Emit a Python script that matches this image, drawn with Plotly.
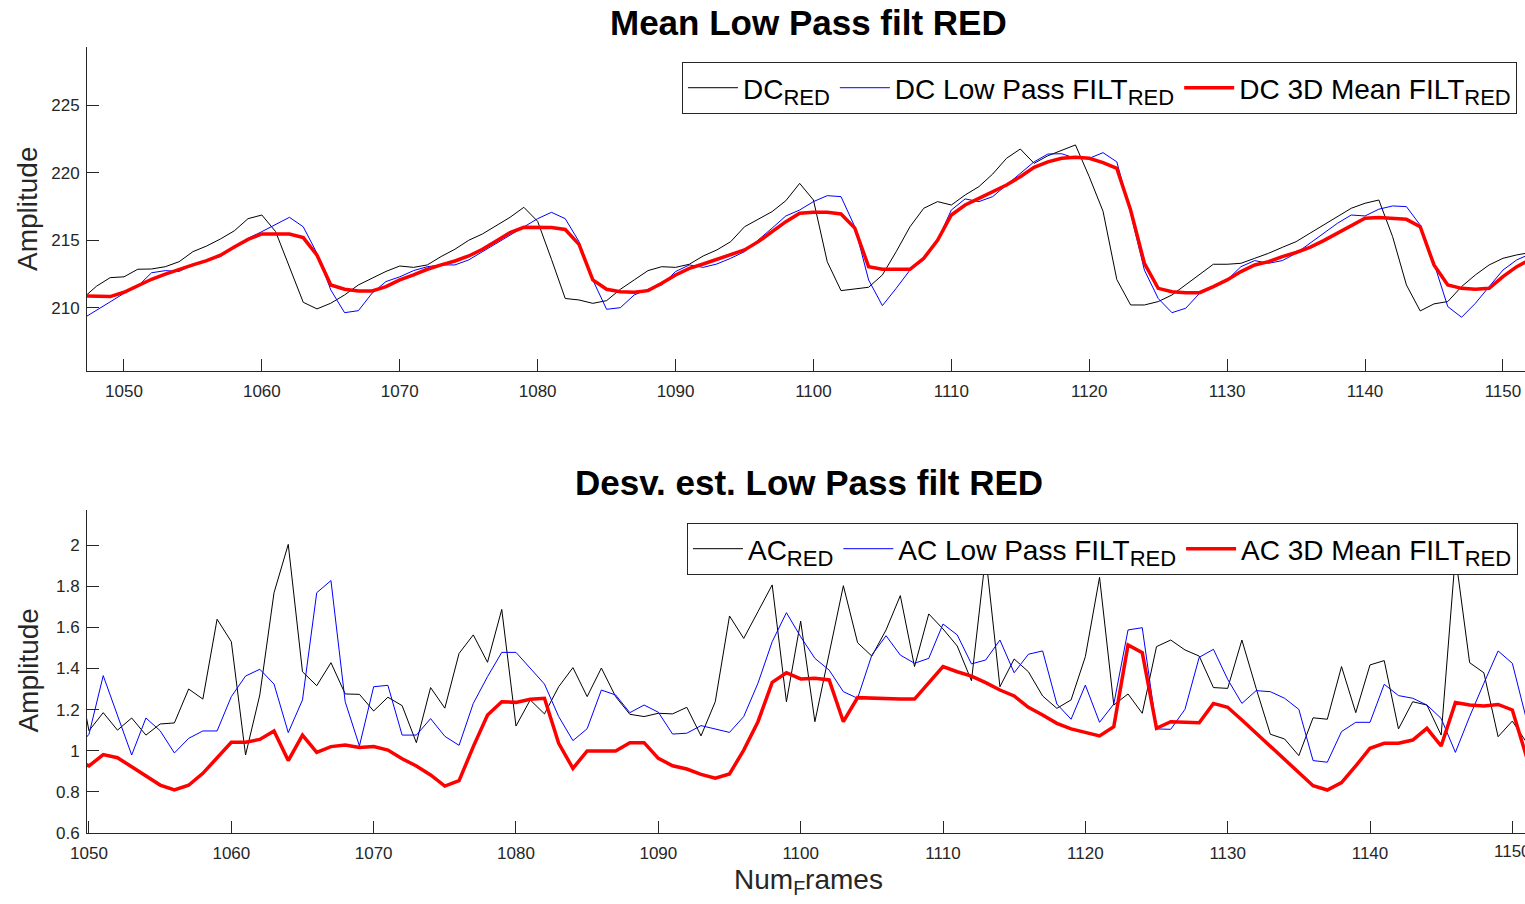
import plotly.graph_objects as go

# ---------------- data ----------------
frames_top = list(range(1047, 1153))
dc_red = [210.7, 211.6, 212.24, 212.3, 212.86, 212.88, 213.05, 213.42, 214.16, 214.58,
          215.1, 215.7, 216.6, 216.87, 215.64, 213.05, 210.42, 209.93, 210.35, 210.96,
          211.7, 212.2, 212.7, 213.1, 213.0, 213.18, 213.8, 214.34, 215.0, 215.47,
          216.1, 216.7, 217.44, 216.4, 213.6, 210.7, 210.59, 210.34, 210.54, 211.38,
          212.07, 212.76, 213.05, 213.0, 213.23, 213.84, 214.29, 214.9, 216.0, 216.55,
          217.12, 217.93, 219.21, 217.98, 213.42, 211.28, 211.38, 211.53, 212.44, 214.16,
          216.0, 217.37, 217.86, 217.61, 218.35, 218.97, 219.9, 221.06, 221.75, 220.69,
          221.25, 221.68, 222.05, 219.7, 217.15, 212.1, 210.22, 210.22, 210.47, 210.96,
          211.7, 212.44, 213.23, 213.23, 213.3, 213.67, 214.04, 214.48, 214.9, 215.52,
          216.13, 216.75, 217.37, 217.74, 217.98, 215.27, 211.7, 209.78, 210.3, 210.47,
          211.58, 212.44, 213.18, 213.67, 213.92, 214.1]
dc_lowpass = [209.2, 209.8, 210.45, 211.08, 211.6, 212.6, 212.76, 212.7, 213.2, 213.5,
              213.8, 214.5, 215.15, 215.64, 216.2, 216.7, 216.0, 214.04, 211.33, 209.65,
              209.8, 211.1, 211.95, 212.3, 212.76, 213.05, 213.18, 213.18, 213.55, 214.16,
              214.78, 215.4, 216.0, 216.6, 217.07, 216.6, 214.9, 212.07, 209.9, 210.02,
              210.96, 211.38, 211.7, 212.69, 213.18, 213.0, 213.25, 213.67, 214.16, 215.0,
              215.9, 216.8, 217.24, 217.86, 218.3, 218.23, 216.0, 212.07, 210.17, 211.45,
              212.8, 213.55, 215.0, 217.24, 218.06, 217.86, 218.23, 219.09, 219.95, 220.8,
              221.38, 221.4, 221.06, 221.06, 221.48, 220.8, 217.0, 212.8, 210.7, 209.65,
              209.98, 211.08, 211.58, 212.07, 213.05, 213.5, 213.3, 213.5, 214.04, 214.78,
              215.52, 216.26, 216.87, 216.8, 217.3, 217.54, 217.49, 216.13, 213.3, 210.1,
              209.31, 210.34, 211.58, 212.8, 213.55, 214.0]
dc_mean3d = [210.9, 210.85, 210.84, 211.16, 211.65, 212.12, 212.5, 212.86, 213.18, 213.5,
             213.9, 214.5, 215.07, 215.47, 215.47, 215.47, 215.2, 213.9, 211.7, 211.38,
             211.26, 211.26, 211.58, 212.07, 212.44, 212.86, 213.18, 213.47, 213.84, 214.34,
             214.95, 215.57, 215.96, 215.96, 215.94, 215.8, 214.7, 212.07, 211.38, 211.2,
             211.16, 211.28, 211.82, 212.44, 212.93, 213.25, 213.6, 213.92, 214.29, 214.9,
             215.64, 216.38, 217.0, 217.07, 217.07, 216.95, 215.9, 213.05, 212.86, 212.86,
             212.86, 213.67, 215.0, 216.87, 217.61, 218.1, 218.6, 219.09, 219.7, 220.4,
             220.8, 221.06, 221.14, 221.06, 220.74, 220.32, 217.24, 213.3, 211.45, 211.2,
             211.13, 211.13, 211.58, 212.07, 212.69, 213.18, 213.42, 213.8, 214.1, 214.48,
             214.98, 215.52, 216.09, 216.63, 216.68, 216.63, 216.55, 216.0, 213.18, 211.7,
             211.45, 211.38, 211.45, 212.32, 213.05, 213.6]

frames_bot = list(range(1049, 1152))
ac_red = [1.45, 1.097, 1.185, 1.10, 1.159, 1.076, 1.13, 1.135, 1.30, 1.251,
          1.639, 1.53, 0.979, 1.271, 1.768, 2.003, 1.384, 1.316, 1.428, 1.276,
          1.274, 1.193, 1.26, 1.219, 1.039, 1.307, 1.207, 1.473, 1.563, 1.43,
          1.687, 1.12, 1.247, 1.179, 1.311, 1.404, 1.263, 1.402, 1.263, 1.177,
          1.166, 1.182, 1.179, 1.211, 1.072, 1.238, 1.655, 1.546, 1.676, 1.806,
          1.238, 1.63, 1.141, 1.473, 1.802, 1.525, 1.46, 1.587, 1.754, 1.409,
          1.665, 1.592, 1.509, 1.34, 1.95, 1.311, 1.446, 1.384, 1.266, 1.206,
          1.247, 1.457, 1.843, 1.222, 1.276, 1.182, 1.506, 1.538, 1.49, 1.46,
          1.307, 1.303, 1.538, 1.303, 1.08, 1.057, 0.976, 1.16, 1.153, 1.409,
          1.185, 1.417, 1.438, 1.106, 1.238, 1.222, 1.076, 1.95, 1.428, 1.379,
          1.068, 1.144, 1.04]
ac_lowpass = [1.0, 1.08, 1.365, 1.17, 0.979, 1.159, 1.097, 0.989, 1.06, 1.096,
              1.096, 1.263, 1.363, 1.396, 1.324, 1.088, 1.247, 1.768, 1.827, 1.238,
              1.023, 1.311, 1.318, 1.076, 1.076, 1.156, 1.07, 1.026, 1.23, 1.36,
              1.478, 1.478, 1.40, 1.324, 1.166, 1.049, 1.107, 1.295, 1.271, 1.185,
              1.222, 1.187, 1.081, 1.085, 1.122, 1.107, 1.089, 1.166, 1.328, 1.53,
              1.671, 1.554, 1.449, 1.392, 1.287, 1.255, 1.465, 1.559, 1.465, 1.425,
              1.449, 1.616, 1.563, 1.422, 1.441, 1.538, 1.379, 1.469, 1.485, 1.227,
              1.153, 1.319, 1.138, 1.227, 1.587, 1.598, 1.106, 1.104, 1.201, 1.454,
              1.493, 1.347, 1.23, 1.292, 1.287, 1.255, 1.201, 0.952, 0.944, 1.093,
              1.138, 1.138, 1.323, 1.268, 1.255, 1.222, 1.157, 0.992, 1.166, 1.328,
              1.485, 1.425, 1.15]
ac_mean3d = [0.96, 0.926, 0.981, 0.966, 0.922, 0.877, 0.833, 0.809, 0.832, 0.89,
             0.968, 1.041, 1.041, 1.055, 1.096, 0.952, 1.076, 0.992, 1.02, 1.028,
             1.016, 1.02, 1.003, 0.961, 0.926, 0.882, 0.828, 0.854, 1.02, 1.174,
             1.238, 1.235, 1.25, 1.255, 1.036, 0.914, 0.999, 0.999, 0.999, 1.039,
             1.039, 0.963, 0.927, 0.911, 0.885, 0.866, 0.887, 1.003, 1.141, 1.332,
             1.379, 1.349, 1.352, 1.344, 1.141, 1.258, 1.255, 1.251, 1.251, 1.251,
             1.331, 1.409, 1.384, 1.363, 1.331, 1.295, 1.266, 1.211, 1.174, 1.133,
             1.106, 1.088, 1.072, 1.117, 1.514, 1.477, 1.109, 1.141, 1.138, 1.136,
             1.23, 1.211, 1.149, 1.085, 1.02, 0.955, 0.895, 0.83, 0.809, 0.845,
             0.926, 1.012, 1.036, 1.036, 1.052, 1.109, 1.023, 1.234, 1.222, 1.217,
             1.225, 1.198, 0.97]

x_ticks = list(range(1050, 1151, 10))
top_y_ticks = [210, 215, 220, 225]
bot_y_ticks = [0.6, 0.8, 1.0, 1.2, 1.4, 1.6, 1.8, 2.0]
edge_tick = 1150  # bottom-axis tick whose label runs past the figure edge

# ---------------- figure ----------------
FONT = "Liberation Sans, Arial, sans-serif"
AX = "#262626"
SUB = '<sub><span style="font-size:22px">RED</span></sub>'

fig = go.Figure()
fig.add_trace(go.Scatter(x=frames_top, y=dc_red, mode="lines", name="DC" + SUB,
                         line=dict(color="black", width=1), xaxis="x", yaxis="y", legend="legend"))
fig.add_trace(go.Scatter(x=frames_top, y=dc_lowpass, mode="lines", name="DC Low Pass FILT" + SUB,
                         line=dict(color="#0000ff", width=1), xaxis="x", yaxis="y", legend="legend"))
fig.add_trace(go.Scatter(x=frames_top, y=dc_mean3d, mode="lines", name="DC 3D Mean FILT" + SUB,
                         line=dict(color="#ff0000", width=3.5), xaxis="x", yaxis="y", legend="legend"))

fig.add_trace(go.Scatter(x=frames_bot, y=ac_red, mode="lines", name="AC" + SUB,
                         line=dict(color="black", width=1), xaxis="x2", yaxis="y2", legend="legend2"))
fig.add_trace(go.Scatter(x=frames_bot, y=ac_lowpass, mode="lines", name="AC Low Pass FILT" + SUB,
                         line=dict(color="#0000ff", width=1), xaxis="x2", yaxis="y2", legend="legend2"))
fig.add_trace(go.Scatter(x=frames_bot, y=ac_mean3d, mode="lines", name="AC 3D Mean FILT" + SUB,
                         line=dict(color="#ff0000", width=3.5), xaxis="x2", yaxis="y2", legend="legend2"))

axis_common = dict(showline=True, linecolor=AX, linewidth=1, ticks="inside", ticklen=12,
                   tickcolor=AX, tickwidth=1, showgrid=False, zeroline=False, mirror=False,
                   tickfont=dict(family=FONT, size=17, color=AX))

legend_common = dict(orientation="h", xanchor="right", yanchor="top", bgcolor="white",
                     bordercolor=AX, borderwidth=1, font=dict(family=FONT, size=28, color="black"),
                     itemwidth=50, tracegroupgap=0)

fig.update_layout(
    width=1525, height=904,
    margin=dict(l=87, r=0, t=47, b=71),
    plot_bgcolor="white", paper_bgcolor="white",
    showlegend=True,
    xaxis=dict(domain=[0, 1], anchor="y", range=[1047.32, 1151.6], tickvals=x_ticks,
               ticklabelstandoff=5, **axis_common),
    yaxis=dict(domain=[0.5878, 1], anchor="x", range=[205.34, 229.29], tickvals=top_y_ticks,
               ticklabelstandoff=3, **axis_common),
    xaxis2=dict(domain=[0, 1], anchor="y2", range=[1049.86, 1150.89], tickvals=x_ticks,
                ticklabelstandoff=5, **axis_common),
    yaxis2=dict(domain=[0, 0.4109], anchor="x2", range=[0.6, 2.17], tickvals=bot_y_ticks,
                ticklabelstandoff=3, **axis_common),
    legend=dict(x=0.9944, y=0.9809, **legend_common),
    legend2=dict(x=0.9951, y=0.3944, **legend_common),
    annotations=[
        dict(text="<b>Mean Low Pass filt RED</b>", xref="paper", yref="paper", x=0.502, y=1.0318,
             xanchor="center", yanchor="middle", showarrow=False,
             font=dict(family=FONT, size=35, color="black")),
        dict(text="<b>Desv. est. Low Pass filt RED</b>", xref="paper", yref="paper", x=0.502, y=0.4453,
             xanchor="center", yanchor="middle", showarrow=False,
             font=dict(family=FONT, size=35, color="black")),
        dict(text="Amplitude", xref="paper", yref="paper", x=-0.041, y=0.7939, textangle=-90,
             xanchor="center", yanchor="middle", showarrow=False,
             font=dict(family=FONT, size=28, color=AX)),
        dict(text="Amplitude", xref="paper", yref="paper", x=-0.041, y=0.2067, textangle=-90,
             xanchor="center", yanchor="middle", showarrow=False,
             font=dict(family=FONT, size=28, color=AX)),
        dict(text="Num<sub>F</sub>rames", xref="paper", yref="paper", x=0.502, y=-0.0623,
             xanchor="center", yanchor="middle", showarrow=False,
             font=dict(family=FONT, size=28, color=AX)),
        dict(text=str(edge_tick), xref="x2", yref="paper", x=edge_tick, y=-0.0235,
             xanchor="center", yanchor="middle", showarrow=False,
             font=dict(family=FONT, size=17, color=AX)),
    ],
)

fig.write_html("out.html", config={"displayModeBar": False},
               post_script="document.body.style.margin='0';document.body.style.overflow='hidden';")
